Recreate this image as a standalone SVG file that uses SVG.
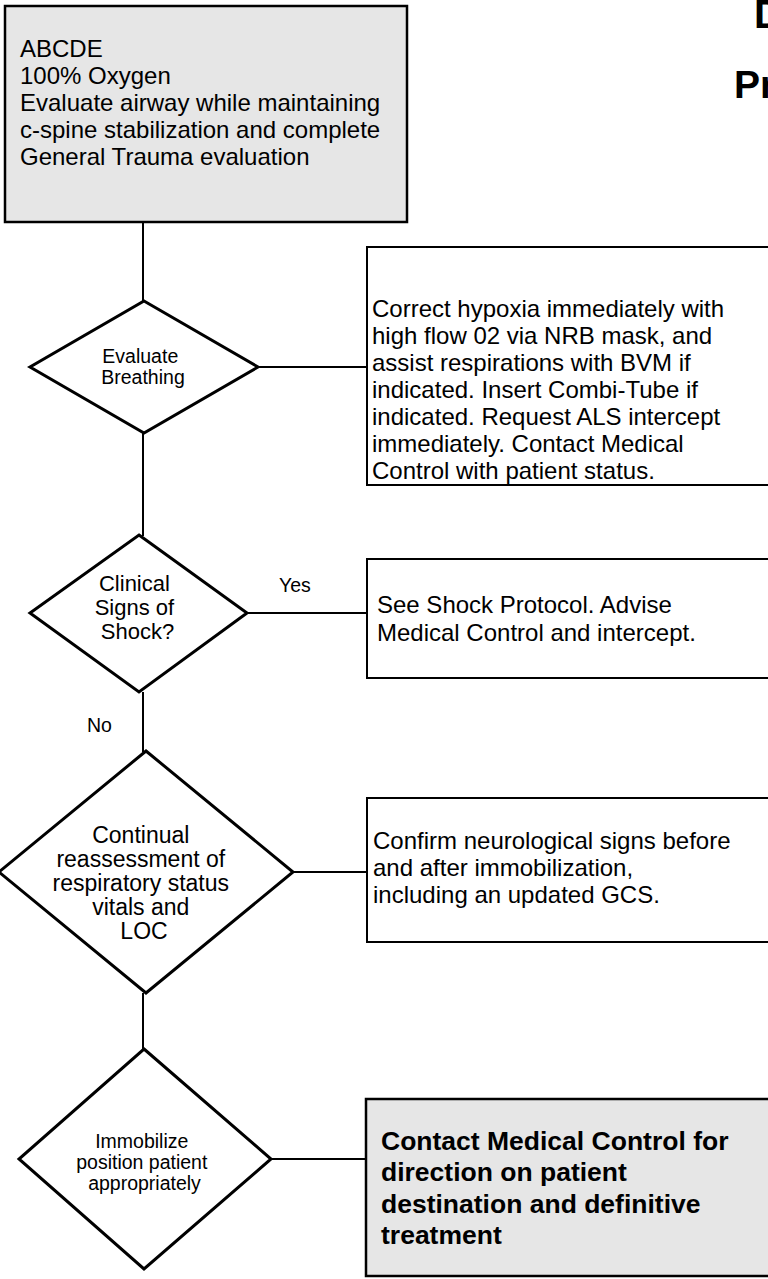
<svg xmlns="http://www.w3.org/2000/svg" width="768" height="1279" viewBox="0 0 768 1279">
<style>
  .t { font-family: "Liberation Sans", Arial, sans-serif; fill: #000; }
  .box { fill: #fff; stroke: #000; stroke-width: 2; }
  .gbox { fill: #e6e6e6; stroke: #000; stroke-width: 2.5; }
  .dia { fill: #fff; stroke: #000; stroke-width: 3; stroke-linejoin: miter; }
  .ln { stroke: #000; stroke-width: 2; fill: none; }
  .bt { font-size: 24px; }
  .bold { font-size: 26.5px; font-weight: bold; }
  .mid { text-anchor: middle; }
</style>
<rect width="768" height="1279" fill="#fff"/>

<g id="title">
  <text class="t" x="754" y="28" font-size="40" font-weight="bold">D</text>
  <text class="t" x="734" y="98" font-size="39" font-weight="bold">Pr</text>
</g>

<g id="connectors">
  <line class="ln" x1="143" y1="222" x2="143" y2="301"/>
  <line class="ln" x1="258" y1="367" x2="367" y2="367"/>
  <line class="ln" x1="143" y1="433" x2="143" y2="536"/>
  <line class="ln" x1="247" y1="613" x2="367" y2="613"/>
  <line class="ln" x1="143" y1="692" x2="143" y2="752"/>
  <line class="ln" x1="293" y1="872" x2="367" y2="872"/>
  <line class="ln" x1="143" y1="993" x2="143" y2="1050"/>
  <line class="ln" x1="271" y1="1159" x2="366" y2="1159"/>
  <text class="t" x="279" y="592" font-size="19.5">Yes</text>
  <text class="t" x="87" y="732" font-size="19.5">No</text>
</g>

<g id="start">
  <rect class="gbox" x="5" y="6" width="402" height="216"/>
  <text class="t bt" x="20">
    <tspan x="20" y="57">ABCDE</tspan>
    <tspan x="20" y="84">100% Oxygen</tspan>
    <tspan x="20" y="111">Evaluate airway while maintaining</tspan>
    <tspan x="20" y="138">c-spine stabilization and complete</tspan>
    <tspan x="20" y="165">General Trauma evaluation</tspan>
  </text>
</g>

<g id="evaluate-breathing">
  <polygon class="dia" points="144,301 258,367 144,433 30,367"/>
  <text class="t mid" font-size="19.5">
    <tspan x="143" y="363">Evaluate</tspan>
    <tspan x="143" y="384">Breathing</tspan>
  </text>
</g>

<g id="hypoxia-box">
  <rect class="box" x="367" y="247" width="420" height="238"/>
  <text class="t bt">
    <tspan x="372" y="317">Correct hypoxia immediately with</tspan>
    <tspan x="372" y="344">high flow 02 via NRB mask, and</tspan>
    <tspan x="372" y="371">assist respirations with BVM if</tspan>
    <tspan x="372" y="398">indicated. Insert Combi-Tube if</tspan>
    <tspan x="372" y="425">indicated. Request ALS intercept</tspan>
    <tspan x="372" y="452">immediately. Contact Medical</tspan>
    <tspan x="372" y="479">Control with patient status.</tspan>
  </text>
</g>

<g id="shock-decision">
  <polygon class="dia" points="139,535 247,613 139,692 30,613"/>
  <text class="t mid" font-size="22">
    <tspan x="137.5" y="591">Clinical</tspan>
    <tspan x="137.5" y="615">Signs of</tspan>
    <tspan x="137.5" y="639">Shock?</tspan>
  </text>
</g>

<g id="shock-box">
  <rect class="box" x="367" y="559" width="420" height="119"/>
  <text class="t bt">
    <tspan x="377" y="613">See Shock Protocol. Advise</tspan>
    <tspan x="377" y="641">Medical Control and intercept.</tspan>
  </text>
</g>

<g id="reassessment">
  <polygon class="dia" points="146,751 293,872 146,993 -1,872"/>
  <text class="t mid" font-size="23">
    <tspan x="144" y="843">Continual</tspan>
    <tspan x="144" y="867">reassessment of</tspan>
    <tspan x="144" y="891">respiratory status</tspan>
    <tspan x="144" y="915">vitals and</tspan>
    <tspan x="144" y="939">LOC</tspan>
  </text>
</g>

<g id="neuro-box">
  <rect class="box" x="367" y="798" width="420" height="144"/>
  <text class="t bt">
    <tspan x="373" y="849">Confirm neurological signs before</tspan>
    <tspan x="373" y="876">and after immobilization,</tspan>
    <tspan x="373" y="903">including an updated GCS.</tspan>
  </text>
</g>

<g id="immobilize">
  <polygon class="dia" points="144,1049 271,1159 144,1269 19,1159"/>
  <text class="t mid" font-size="19.5">
    <tspan x="144.5" y="1148">Immobilize</tspan>
    <tspan x="144.5" y="1169">position patient</tspan>
    <tspan x="144.5" y="1190">appropriately</tspan>
  </text>
</g>

<g id="contact-box">
  <rect class="gbox" x="366" y="1099" width="420" height="177"/>
  <text class="t bold">
    <tspan x="381" y="1150">Contact Medical Control for</tspan>
    <tspan x="381" y="1181">direction on patient</tspan>
    <tspan x="381" y="1213">destination and definitive</tspan>
    <tspan x="381" y="1244">treatment</tspan>
  </text>
</g>
</svg>
